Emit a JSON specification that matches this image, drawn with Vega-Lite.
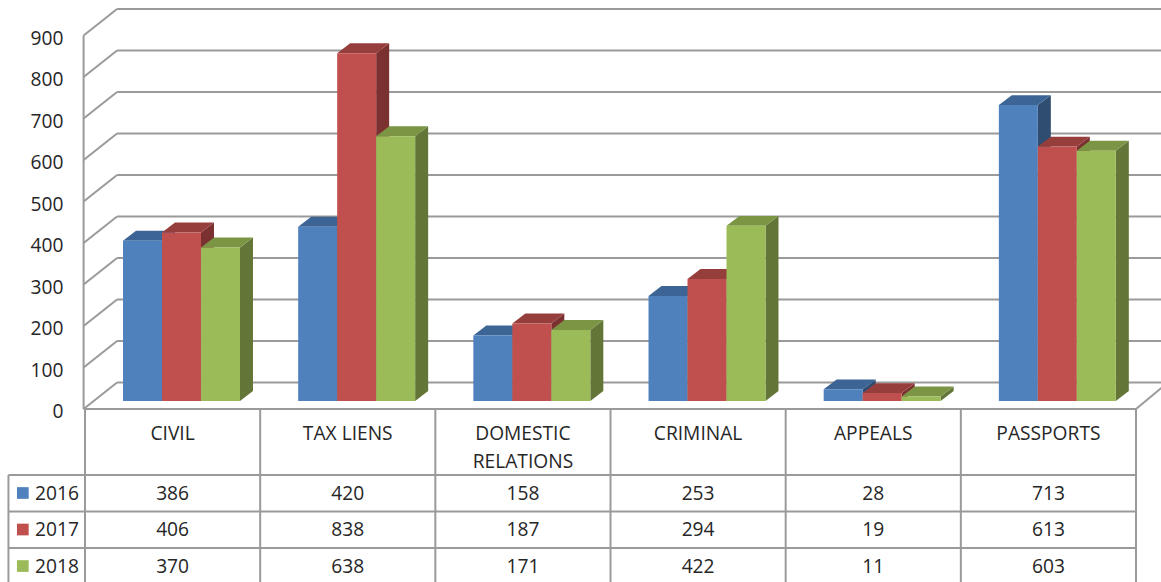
{
"$schema":"https://vega.github.io/schema/vega-lite/v6.json",
"width":1161,"height":582,"padding":0,"autosize":{"type":"none"},"background":"white",
"config":{"view":{"stroke":null},"text":{"font":"Open Sans","fontSize":19.2,"color":"#262626"},"axis":{"labelFont":"Open Sans"}},
"datasets":{
"one":[{}],
"ticks":[{"t":0},{"t":100},{"t":200},{"t":300},{"t":400},{"t":500},{"t":600},{"t":700},{"t":800},{"t":900}],
"years":[{"row":0},{"row":1},{"row":2}],
"bars":[
{"category":"CIVIL","year":2016,"value":386},{"category":"CIVIL","year":2017,"value":406},{"category":"CIVIL","year":2018,"value":370},
{"category":"TAX LIENS","year":2016,"value":420},{"category":"TAX LIENS","year":2017,"value":838},{"category":"TAX LIENS","year":2018,"value":638},
{"category":"DOMESTIC RELATIONS","year":2016,"value":158},{"category":"DOMESTIC RELATIONS","year":2017,"value":187},{"category":"DOMESTIC RELATIONS","year":2018,"value":171},
{"category":"CRIMINAL","year":2016,"value":253},{"category":"CRIMINAL","year":2017,"value":294},{"category":"CRIMINAL","year":2018,"value":422},
{"category":"APPEALS","year":2016,"value":28},{"category":"APPEALS","year":2017,"value":19},{"category":"APPEALS","year":2018,"value":11},
{"category":"PASSPORTS","year":2016,"value":713},{"category":"PASSPORTS","year":2017,"value":613},{"category":"PASSPORTS","year":2018,"value":603}
]},
"layer":[
{"data":{"name":"ticks"},"transform":[{"calculate":"datum.t+64","as":"tb"}],"mark":{"type":"rule","color":"#9a9a9a","strokeWidth":2},
 "encoding":{"x":{"datum":-0.008,"type":"quantitative","scale":{"domain":[0,6],"range":[85,1136]},"axis":null},"x2":{"datum":0.183},
 "y":{"field":"t","type":"quantitative","scale":{"domain":[0,900],"range":[409,35.5]},"axis":{"orient":"left","offset":-63,"values":[0,100,200,300,400,500,600,700,800,900],"domain":false,"ticks":false,"grid":false,"labelPadding":0,"labelOffset":2.5,"labelFontSize":19.2,"labelColor":"#262626","title":null}},
 "y2":{"field":"tb"}}},
{"data":{"name":"ticks"},"transform":[{"calculate":"datum.t+64","as":"tb"}],"mark":{"type":"rule","color":"#9a9a9a","strokeWidth":2},
 "encoding":{"x":{"datum":0.183,"type":"quantitative","scale":{"domain":[0,6],"range":[85,1136]},"axis":null},"x2":{"datum":6.2},
 "y":{"field":"tb","type":"quantitative","scale":{"domain":[0,900],"range":[409,35.5]}}}},
{"data":{"name":"one"},"mark":{"type":"rule","color":"#9a9a9a","strokeWidth":2},"encoding":{"x":{"datum":-0.008,"type":"quantitative","scale":{"domain":[0,6],"range":[85,1136]},"axis":null},
 "y":{"datum":0,"type":"quantitative","scale":{"domain":[0,900],"range":[409,35.5]}},"y2":{"datum":900}}},
{"data":{"name":"one"},"mark":{"type":"rule","color":"#9a9a9a","strokeWidth":2},"encoding":{"x":{"datum":6,"type":"quantitative","scale":{"domain":[0,6],"range":[85,1136]},"axis":null},"x2":{"datum":6.183},
 "y":{"datum":0,"type":"quantitative","scale":{"domain":[0,900],"range":[409,35.5]}},"y2":{"datum":64}}},
{"data":{"name":"bars"},"transform":[
 {"calculate":"indexof(['CIVIL','TAX LIENS','DOMESTIC RELATIONS','CRIMINAL','APPEALS','PASSPORTS'],datum.category)+0.217+(datum.year-2016)*0.2226","as":"x0"},
 {"calculate":"datum.x0+0.2226","as":"x1"},{"calculate":"[0,1]","as":"d"},{"flatten":["d"]},
 {"calculate":"datum.x1+datum.d*0.0742","as":"sx"},{"calculate":"datum.value+19.3+datum.d*24","as":"st"},{"calculate":"19.3+datum.d*24","as":"sb"},
 {"calculate":"datum.year+'-side'","as":"key"},{"calculate":"datum.category+datum.year","as":"id"}],
 "mark":{"type":"area","orient":"vertical"},
 "encoding":{"x":{"field":"sx","type":"quantitative","scale":{"domain":[0,6],"range":[85,1136]},"axis":null},
 "y":{"field":"st","type":"quantitative","stack":null,"scale":{"domain":[0,900],"range":[409,35.5]}},"y2":{"field":"sb"},"detail":{"field":"id"},
 "color":{"field":"key","type":"nominal","legend":null,"scale":{"domain":["2016-front","2017-front","2018-front","2016-top","2017-top","2018-top","2016-side","2017-side","2018-side"],"range":["#4F81BD","#C0504D","#9BBB59","#3C6596","#963E3B","#7B9545","#2F4D71","#7A3130","#637637"]}}}},
{"data":{"name":"bars"},"transform":[
 {"calculate":"indexof(['CIVIL','TAX LIENS','DOMESTIC RELATIONS','CRIMINAL','APPEALS','PASSPORTS'],datum.category)+0.217+(datum.year-2016)*0.2226","as":"x0"},
 {"calculate":"datum.x0+0.2226","as":"x1"},{"calculate":"[0,1]","as":"d"},{"flatten":["d"]},
 {"calculate":"datum.x0+datum.d*0.0742","as":"ta"},{"calculate":"datum.x1+datum.d*0.0742","as":"tb"},{"calculate":"datum.value+19.3+datum.d*24","as":"ty"},
 {"calculate":"datum.year+'-top'","as":"key"},{"calculate":"datum.category+datum.year","as":"id"}],
 "mark":{"type":"area","orient":"horizontal"},
 "encoding":{"y":{"field":"ty","type":"quantitative","scale":{"domain":[0,900],"range":[409,35.5]}},
 "x":{"field":"ta","type":"quantitative","stack":null,"scale":{"domain":[0,6],"range":[85,1136]},"axis":null},"x2":{"field":"tb"},"detail":{"field":"id"},
 "color":{"field":"key","type":"nominal","legend":null,"scale":{"domain":["2016-front","2017-front","2018-front","2016-top","2017-top","2018-top","2016-side","2017-side","2018-side"],"range":["#4F81BD","#C0504D","#9BBB59","#3C6596","#963E3B","#7B9545","#2F4D71","#7A3130","#637637"]}}}},
{"data":{"name":"bars"},"transform":[
 {"calculate":"indexof(['CIVIL','TAX LIENS','DOMESTIC RELATIONS','CRIMINAL','APPEALS','PASSPORTS'],datum.category)+0.217+(datum.year-2016)*0.2226","as":"x0"},
 {"calculate":"datum.x0+0.2226","as":"x1"},{"calculate":"datum.value+19.3","as":"top"},{"calculate":"19.3","as":"base"},{"calculate":"datum.year+'-front'","as":"key"}],
 "mark":{"type":"rect"},
 "encoding":{"x":{"field":"x0","type":"quantitative","scale":{"domain":[0,6],"range":[85,1136]},"axis":null},"x2":{"field":"x1"},
 "y":{"field":"top","type":"quantitative","scale":{"domain":[0,900],"range":[409,35.5]}},"y2":{"field":"base"},
 "color":{"field":"key","type":"nominal","legend":null,"scale":{"domain":["2016-front","2017-front","2018-front","2016-top","2017-top","2018-top","2016-side","2017-side","2018-side"],"range":["#4F81BD","#C0504D","#9BBB59","#3C6596","#963E3B","#7B9545","#2F4D71","#7A3130","#637637"]}}}},
{"data":{"name":"one"},"mark":{"type":"rule","color":"#9a9a9a","strokeWidth":2},"encoding":{"x":{"datum":-0.008,"type":"quantitative","scale":{"domain":[0,6],"range":[85,1136]},"axis":null},"x2":{"datum":6},
 "y":{"datum":0,"type":"quantitative","scale":{"domain":[0,900],"range":[409,35.5]}}}},
{"data":{"name":"years"},"transform":[{"calculate":"-159-88*datum.row","as":"ly"}],"mark":{"type":"rule","color":"#9a9a9a","strokeWidth":2},
 "encoding":{"x":{"datum":-0.437,"type":"quantitative","scale":{"domain":[0,6],"range":[85,1136]},"axis":null},"x2":{"datum":6},
 "y":{"field":"ly","type":"quantitative","scale":{"domain":[0,900],"range":[409,35.5]}}}},
{"data":{"name":"one"},"mark":{"type":"rule","color":"#9a9a9a","strokeWidth":2},"encoding":{"x":{"datum":-0.437,"type":"quantitative","scale":{"domain":[0,6],"range":[85,1136]},"axis":null},
 "y":{"datum":-159,"type":"quantitative","scale":{"domain":[0,900],"range":[409,35.5]}},"y2":{"datum":-430}}},
{"data":{"name":"bars"},"transform":[{"filter":"datum.year==2016"},{"calculate":"indexof(['CIVIL','TAX LIENS','DOMESTIC RELATIONS','CRIMINAL','APPEALS','PASSPORTS'],datum.category)+1","as":"vx"}],
 "mark":{"type":"rule","color":"#9a9a9a","strokeWidth":2},"encoding":{"x":{"field":"vx","type":"quantitative","scale":{"domain":[0,6],"range":[85,1136]},"axis":null},
 "y":{"datum":0,"type":"quantitative","scale":{"domain":[0,900],"range":[409,35.5]}},"y2":{"datum":-430}}},
{"data":{"name":"one"},"mark":{"type":"rule","color":"#9a9a9a","strokeWidth":2},"encoding":{"x":{"datum":0,"type":"quantitative","scale":{"domain":[0,6],"range":[85,1136]},"axis":null},
 "y":{"datum":0,"type":"quantitative","scale":{"domain":[0,900],"range":[409,35.5]}},"y2":{"datum":-430}}},
{"data":{"name":"bars"},"transform":[{"filter":"datum.year==2016"},{"calculate":"indexof(['CIVIL','TAX LIENS','DOMESTIC RELATIONS','CRIMINAL','APPEALS','PASSPORTS'],datum.category)+0.5","as":"cx"},{"calculate":"replace(datum.category,' RELATIONS','|RELATIONS')","as":"head"},{"calculate":"-38.5","as":"hy"}],
 "mark":{"type":"text","align":"center","baseline":"top","lineBreak":"|","lineHeight":28},
 "encoding":{"x":{"field":"cx","type":"quantitative","scale":{"domain":[0,6],"range":[85,1136]},"axis":null},
 "y":{"field":"hy","type":"quantitative","scale":{"domain":[0,900],"range":[409,35.5]}},"text":{"field":"head"}}},
{"data":{"name":"bars"},"transform":[{"calculate":"indexof(['CIVIL','TAX LIENS','DOMESTIC RELATIONS','CRIMINAL','APPEALS','PASSPORTS'],datum.category)+0.5","as":"cx"},{"calculate":"-204.5-88*(datum.year-2016)","as":"ry"}],
 "mark":{"type":"text","align":"center","baseline":"middle"},
 "encoding":{"x":{"field":"cx","type":"quantitative","scale":{"domain":[0,6],"range":[85,1136]},"axis":null},
 "y":{"field":"ry","type":"quantitative","scale":{"domain":[0,900],"range":[409,35.5]}},"text":{"field":"value"}}},
{"data":{"name":"bars"},"transform":[{"filter":"datum.category=='CIVIL'"},{"calculate":"-204.5-88*(datum.year-2016)","as":"ry"},{"calculate":"-0.285","as":"lx"}],
 "mark":{"type":"text","align":"left","baseline":"middle"},
 "encoding":{"x":{"field":"lx","type":"quantitative","scale":{"domain":[0,6],"range":[85,1136]},"axis":null},
 "y":{"field":"ry","type":"quantitative","scale":{"domain":[0,900],"range":[409,35.5]}},"text":{"field":"year"}}},
{"data":{"name":"bars"},"transform":[{"filter":"datum.category=='CIVIL'"},{"calculate":"-202.4-88*(datum.year-2016)","as":"ry"},{"calculate":"-0.355","as":"lx"},{"calculate":"datum.year+'-front'","as":"key"}],
 "mark":{"type":"point","shape":"square","filled":true,"size":137,"opacity":1},
 "encoding":{"x":{"field":"lx","type":"quantitative","scale":{"domain":[0,6],"range":[85,1136]},"axis":null},
 "y":{"field":"ry","type":"quantitative","scale":{"domain":[0,900],"range":[409,35.5]}},
 "color":{"field":"key","type":"nominal","legend":null,"scale":{"domain":["2016-front","2017-front","2018-front","2016-top","2017-top","2018-top","2016-side","2017-side","2018-side"],"range":["#4F81BD","#C0504D","#9BBB59","#3C6596","#963E3B","#7B9545","#2F4D71","#7A3130","#637637"]}}}}
]}
